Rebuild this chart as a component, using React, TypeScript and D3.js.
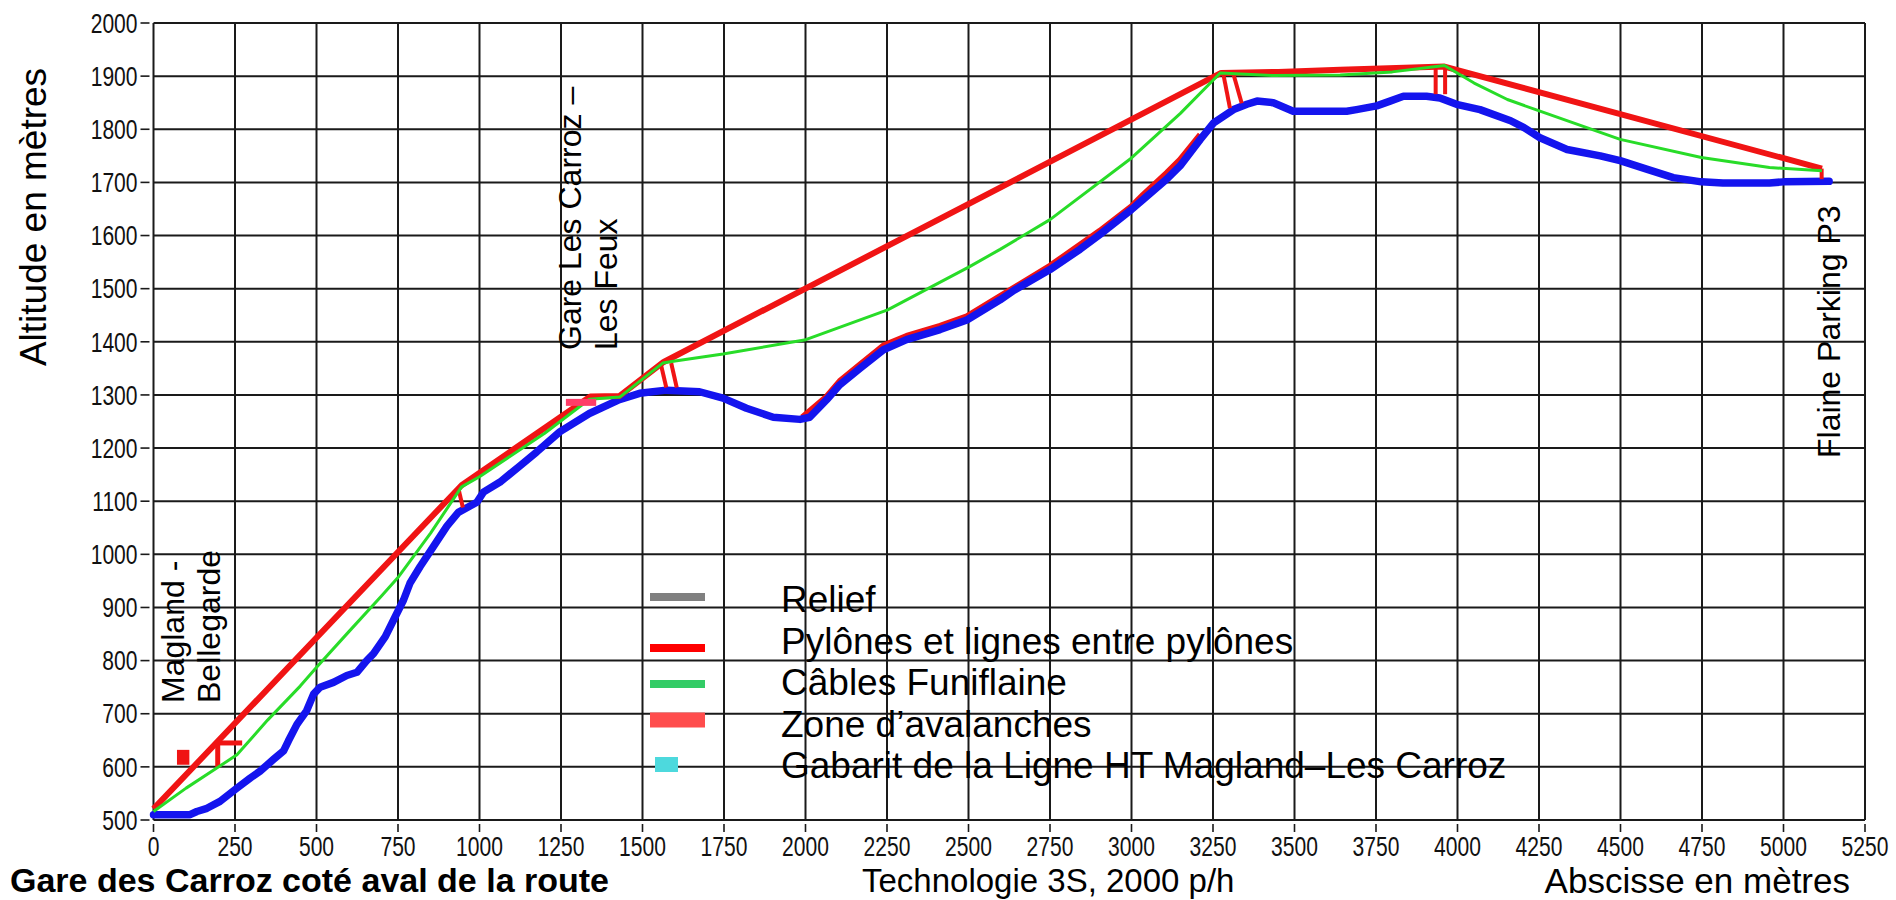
import React from 'react';
import * as d3 from 'd3';

// ---------- data ----------
const xTickValues = [0, 250, 500, 750, 1000, 1250, 1500, 1750, 2000, 2250, 2500, 2750, 3000, 3250, 3500, 3750, 4000, 4250, 4500, 4750, 5000, 5250];
const yTickValues = [500, 600, 700, 800, 900, 1000, 1100, 1200, 1300, 1400, 1500, 1600, 1700, 1800, 1900, 2000];

// Relief (blue)
const relief: [number, number][] = [
  [0, 510], [112, 510], [133, 516], [164, 522], [204, 535], [256, 560], [297, 579], [327, 592],
  [368, 614], [399, 630], [414, 649], [440, 680], [470, 706], [491, 737], [511, 750], [552, 759],
  [593, 772], [624, 778], [654, 800], [675, 813], [711, 845], [736, 876], [767, 914], [787, 946],
  [818, 977], [859, 1015], [900, 1053], [935, 1079], [971, 1091], [992, 1098], [1012, 1117],
  [1063, 1136], [1125, 1167], [1176, 1193], [1247, 1231], [1337, 1265], [1429, 1291], [1491, 1303],
  [1573, 1309], [1675, 1306], [1747, 1294], [1819, 1275], [1901, 1258], [1983, 1254], [2013, 1258],
  [2065, 1291], [2105, 1319], [2167, 1350], [2239, 1385], [2310, 1404], [2413, 1423], [2495, 1441],
  [2597, 1479], [2640, 1497], [2750, 1536], [2842, 1574], [2903, 1602], [3000, 1649], [3036, 1668],
  [3108, 1706], [3149, 1731], [3211, 1781], [3252, 1812], [3313, 1837], [3354, 1847], [3385, 1853],
  [3435, 1850], [3496, 1834], [3558, 1834], [3660, 1834], [3690, 1837], [3752, 1844], [3793, 1853],
  [3834, 1862], [3905, 1862], [3946, 1859], [3997, 1847], [4069, 1837], [4163, 1816], [4204, 1803],
  [4253, 1784], [4336, 1762], [4438, 1750], [4499, 1741], [4580, 1725], [4662, 1709], [4748, 1701],
  [4814, 1699], [4957, 1699], [5000, 1701], [5140, 1702],
];

// Red line following the ground
const groundLine: [number, number][] = [
  [1990, 1258], [2065, 1297], [2105, 1326], [2167, 1357], [2239, 1393], [2310, 1411], [2413, 1430],
  [2495, 1448], [2597, 1486], [2750, 1543], [2903, 1609], [3000, 1655], [3036, 1677], [3108, 1718],
  [3149, 1743], [3211, 1790],
];

// Pylons and lines between pylons (red)
const pylonLine: [number, number][] = [
  [0, 521], [945, 1130], [1340, 1297], [1430, 1298], [1565, 1362], [3275, 1906], [3450, 1908],
  [3640, 1912], [3960, 1918], [5118, 1726],
];

// Funiflaine cables (green)
const cable: [number, number][] = [
  [0, 516], [100, 560], [200, 600], [256, 623], [350, 688], [450, 752], [501, 788], [600, 855],
  [700, 922], [752, 958], [850, 1040], [945, 1127], [1000, 1146], [1200, 1228], [1337, 1292],
  [1430, 1296], [1562, 1360], [1600, 1364], [1747, 1377], [2001, 1404], [2252, 1460], [2502, 1541],
  [2597, 1574], [2750, 1630], [3000, 1746], [3150, 1830], [3272, 1906], [3435, 1901], [3640, 1902],
  [3800, 1908], [3960, 1920], [4051, 1887], [4153, 1856], [4253, 1834], [4499, 1781], [4748, 1747],
  [4957, 1728], [5118, 1722],
];

// Pylon legs [x1, y1, x2, y2]
const pylonLegs: [number, number, number, number][] = [
  [936, 1122, 949, 1088],
  [1557, 1356, 1573, 1314], [1588, 1360, 1605, 1314],
  [3282, 1903, 3302, 1840], [3313, 1903, 3338, 1849],
  [3933, 1914, 3933, 1866], [3962, 1914, 3962, 1866],
  [5117, 1726, 5117, 1706],
];

// Avalanche / obstacle marks near the start [x1, y1, x2, y2]
const redBlocks: [number, number, number, number][] = [
  [72, 604, 110, 632],
];
const redTicks: [number, number, number, number][] = [
  [197, 598, 197, 650], [190, 645, 272, 645],
];
// Avalanche zone bar
const avalancheZone: [number, number, number] = [1265, 1358, 1286];

const legendLabels = [
  'Relief',
  'Pylônes et lignes entre pylônes',
  'Câbles Funiflaine',
  'Zone d\u2019avalanches',
  'Gabarit de la Ligne HT Magland\u2013Les Carroz',
];

// ---------- chart ----------
const W = 1896;
const H = 900;
const FONT = 'Liberation Sans, Arial, Helvetica, sans-serif';
const TICKFONT = '"Liberation Sans", Arial, sans-serif';

export default function App() {
  const x = d3.scaleLinear().domain([0, 5250]).range([153.5, 1865]);
  const y = d3.scaleLinear().domain([500, 2000]).range([820, 23]);
  const line = d3.line<[number, number]>().x(d => x(d[0])).y(d => y(d[1]));

  const gridColor = '#1a1a1a';

  return (
    <div style={{ position: 'absolute', left: 0, top: 0, width: W, height: H, overflow: 'hidden' }}>
      <svg width={W} height={H} style={{ display: 'block', background: '#fff' }}>
        {/* grid */}
        <g stroke={gridColor} strokeWidth={2}>
          {xTickValues.map(v => (
            <line key={'gx' + v} x1={x(v)} x2={x(v)} y1={y(2000)} y2={y(500)} />
          ))}
          {yTickValues.map(v => (
            <line key={'gy' + v} x1={x(0)} x2={x(5250)} y1={y(v)} y2={y(v)} />
          ))}
          {xTickValues.map(v => (
            <line key={'tx' + v} x1={x(v)} x2={x(v)} y1={y(500) + 4} y2={y(500) + 12} strokeWidth={1.6} />
          ))}
          {yTickValues.map(v => (
            <line key={'ty' + v} x1={x(0) - 13} x2={x(0) - 4} y1={y(v)} y2={y(v)} strokeWidth={1.6} />
          ))}
        </g>
        {/* tick labels (condensed) */}
        <g fontFamily={TICKFONT} fontSize={27} fill="#111">
          {yTickValues.map(v => (
            <text key={'ly' + v} transform={`translate(${x(0) - 16},${y(v)}) scale(0.78,1)`} dy="0.36em" textAnchor="end">{v}</text>
          ))}
          {xTickValues.map(v => (
            <text key={'lx' + v} transform={`translate(${x(v)},856) scale(0.78,1)`} textAnchor="middle">{v}</text>
          ))}
        </g>

        {/* series */}
        <path d={line(groundLine) || ''} fill="none" stroke="#f01414" strokeWidth={6} strokeLinejoin="round" />
        <path d={line(relief) || ''} fill="none" stroke="#1414ee" strokeWidth={7.5} strokeLinejoin="round" strokeLinecap="round" />
        <g stroke="#f01414" strokeWidth={4}>
          {pylonLegs.map((p, i) => (
            <line key={'pl' + i} x1={x(p[0])} y1={y(p[1])} x2={x(p[2])} y2={y(p[3])} />
          ))}
          {redTicks.map((p, i) => (
            <line key={'rt' + i} x1={x(p[0])} y1={y(p[1])} x2={x(p[2])} y2={y(p[3])} strokeWidth={5} />
          ))}
        </g>
        {redBlocks.map((b, i) => (
          <rect key={'rb' + i} x={x(b[0])} y={y(b[3])} width={x(b[2]) - x(b[0])} height={y(b[1]) - y(b[3])} fill="#f01414" />
        ))}
        <path d={line(pylonLine) || ''} fill="none" stroke="#f01414" strokeWidth={6} strokeLinejoin="round" />
        <path d={line(cable) || ''} fill="none" stroke="#28dc28" strokeWidth={3} strokeLinejoin="round" />
        <line x1={x(avalancheZone[0])} x2={x(avalancheZone[1])} y1={y(avalancheZone[2])} y2={y(avalancheZone[2])} stroke="#ff3d68" strokeWidth={7} />

        {/* legend */}
        <g>
          <line x1={650} x2={705} y1={597} y2={597} stroke="#808080" strokeWidth={8} />
          <line x1={650} x2={705} y1={648} y2={648} stroke="#ff0000" strokeWidth={8} />
          <line x1={650} x2={705} y1={684} y2={684} stroke="#33cc66" strokeWidth={8} />
          <line x1={650} x2={705} y1={720} y2={720} stroke="#ff4d4d" strokeWidth={15} />
          <rect x={655} y={757} width={23} height={15} fill="#4dd9dd" />
          {legendLabels.map((l, i) => (
            <text key={'lg' + i} x={781} y={612 + i * 41.5} fontFamily={FONT} fontSize={37} fill="#000">{l}</text>
          ))}
        </g>

        {/* station labels */}
        <g fontFamily={FONT} fontSize={32} fill="#000">
          <text transform="translate(184,703) rotate(-90)">Magland -</text>
          <text transform="translate(220,703) rotate(-90)">Bellegarde</text>
          <text transform="translate(581,350) rotate(-90)">Gare Les Carroz {'\u2013'}</text>
          <text transform="translate(617,350) rotate(-90)">Les Feux</text>
          <text transform="translate(1840,458) rotate(-90)">Flaine Parking P3</text>
        </g>

        {/* axis titles */}
        <text transform="translate(46,217) rotate(-90)" textAnchor="middle" fontFamily={FONT} fontSize={37} fill="#000">Altitude en mètres</text>
        <text x={1850} y={893} textAnchor="end" fontFamily={FONT} fontSize={35} fill="#000">Abscisse en mètres</text>

        {/* bottom captions */}
        <text x={10} y={892} fontFamily={FONT} fontSize={34} fontWeight="bold" fill="#000">Gare des Carroz coté aval de la route</text>
        <text x={862} y={892} fontFamily={FONT} fontSize={33} fill="#000">Technologie 3S, 2000 p/h</text>
      </svg>
    </div>
  );
}
